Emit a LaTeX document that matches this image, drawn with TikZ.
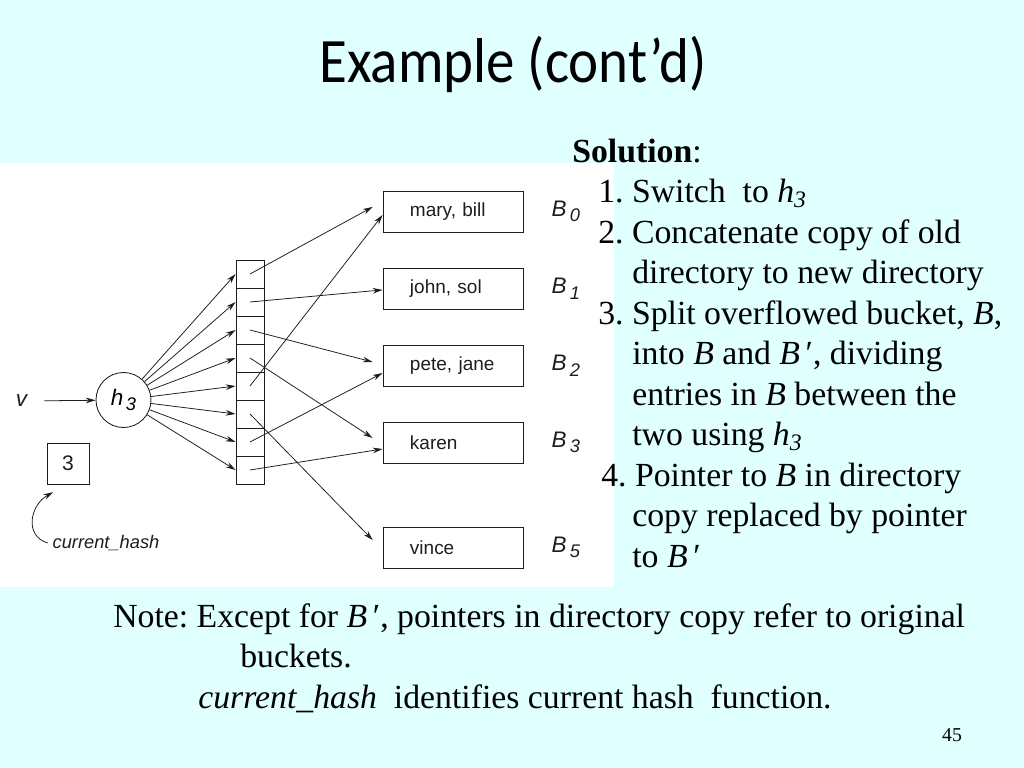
\documentclass[tikz,border=0pt]{standalone}
\usepackage{fontspec}
\setmainfont{Liberation Serif}
\newfontfamily\titlefont[FakeStretch=0.9]{Carlito}
\newfontfamily\figfont{Liberation Sans}
\usetikzlibrary{arrows.meta,positioning}
\definecolor{bgc}{HTML}{E0FFFF}
\definecolor{ink}{HTML}{1E1E1E}
\frenchspacing
\newcommand{\sublab}[2]{{\fontsize{16}{16}\selectfont\textit{#1}}\,%
  \raisebox{-4pt}{\fontsize{13}{13}\selectfont\textit{#2}}}
\newcommand{\hthree}{\textit{h}\textsubscript{\textit{3}}}
\tikzset{
  bucket/.style={
    rectangle, draw=ink, line width=0.6pt,
    minimum width=3.5cm, minimum height=1.025cm,
    text width=2.15cm, inner xsep=0.675cm, align=left,
    font=\figfont\fontsize{13.5}{15}\selectfont, text=ink
  },
  cell/.style={
    rectangle, draw=ink, line width=0.6pt,
    minimum width=0.7cm, minimum height=0.7cm, inner sep=0pt
  },
  hashfn/.style={
    circle, draw=ink, line width=0.6pt, minimum size=1.375cm,
    inner sep=0pt, font=\figfont
  },
  figtext/.style={font=\figfont\fontsize{13}{15}\selectfont, text=ink},
  ptr/.style={-{Stealth[length=7pt,width=4pt]}, line width=0.55pt, ink},
  body/.style={
    font=\fontsize{24}{28.8}\selectfont, align=left,
    inner sep=0pt, anchor=base west
  }
}

\begin{document}
\begin{tikzpicture}[x=0.025cm, y=-0.025cm]

% ── Slide background ──────────────────────────────────────────────
\useasboundingbox (0,0) rectangle (1024,768);
\fill[bgc] (0,0) rectangle (1024,768);
\fill[white] (0,163) rectangle (614,587);

% ── Title ─────────────────────────────────────────────────────────
\node[font=\titlefont\fontsize{45}{50}\selectfont, anchor=base]
  (title) at (513,83) {Example (cont’d)};

% ── Directory (8 cells) ───────────────────────────────────────────
\foreach \i in {0,...,7}{
  \node[cell] (d\i) at (250, {274+28*\i}) {};
}

% ── Hash function, input and current_hash ─────────────────────────
\node[hashfn] (h) at (123.5,400) {\sublab{h}{3}};
\node[figtext, font=\figfont\fontsize{16}{16}\selectfont] (v) at (22,401)
  {\textit{v}};
\draw[ptr, shorten <=8pt] (v) -- (h);

\node[rectangle, draw=ink, line width=0.6pt, minimum width=1.05cm,
  minimum height=1.025cm, figtext, font=\figfont\fontsize{15}{15}\selectfont]
  (cur) at (68,463.5) {3};
\node[figtext] (ch) at (106,543) {\textit{current\_hash}};
\draw[ptr] (ch.west) .. controls (24,536) and (30,505)
  .. ([xshift=-10.5pt,yshift=-5.5pt]cur.south);

\foreach \i in {0,...,7}{
  \draw[ptr] (h) -- (d\i.west);
}

% ── Buckets ───────────────────────────────────────────────────────
\node[bucket] (b0) at (453,211.5) {mary, bill};
\node[bucket] (b1) at (453,288.5) {john, sol};
\node[bucket] (b2) at (453,366)   {pete, jane};
\node[bucket] (b3) at (453,442.5) {karen};
\node[bucket] (b5) at (453,547.5) {vince};

\foreach \b/\n in {b0/0, b1/1, b2/2, b3/3, b5/5}{
  \node[figtext, right=0.7cm of \b, inner sep=0pt] (l\b) {\sublab{B}{\n}};
}

% ── Directory pointers ────────────────────────────────────────────
\foreach \i/\b/\dy/\s in {0/b0/7.1/8, 1/b1/-1/0, 2/b2/1/7.3, 3/b3/-1.4/8.5,
                          4/b0/-2.5/0, 5/b5/-1.9/10, 6/b2/-5/0, 7/b3/-4.6/0}{
  \draw[ptr, shorten >=\s pt] (d\i.center) -- ([yshift=\dy pt]\b.west);
}

% ── Solution text (base = last line) ──────────────────────────────
\node[body] (sol) at (572,567)
  {\textbf{Solution}:\\
   \hspace*{18.5pt}1. Switch\ \ to \hthree\\
   \hspace*{18.5pt}2. Concatenate copy of old\\
   \hspace*{42.7pt}directory to new directory\\
   \hspace*{18.5pt}3. Split overflowed bucket, \textit{B},\\
   \hspace*{42.7pt}into \textit{B} and \textit{B}\,′, dividing\\
   \hspace*{42.7pt}entries in \textit{B} between the\\
   \hspace*{42.7pt}two using \hthree\\
   \hspace*{20.6pt}4. Pointer to \textit{B} in directory\\
   \hspace*{42.7pt}copy replaced by pointer\\
   \hspace*{42.7pt}to \textit{B}\,′};

% ── Note ──────────────────────────────────────────────────────────
\node[body] (note) at (113,708)
  {Note: Except for \textit{B}\,′, pointers in directory copy refer to original\\
   \hspace*{90.3pt}buckets.\\
   \hspace*{60.5pt}\textit{current\_hash}\ \ identifies current hash\ \ function.};

\node[font=\fontsize{14}{16}\selectfont] (page) at (952,735) {45};

\end{tikzpicture}
\end{document}
